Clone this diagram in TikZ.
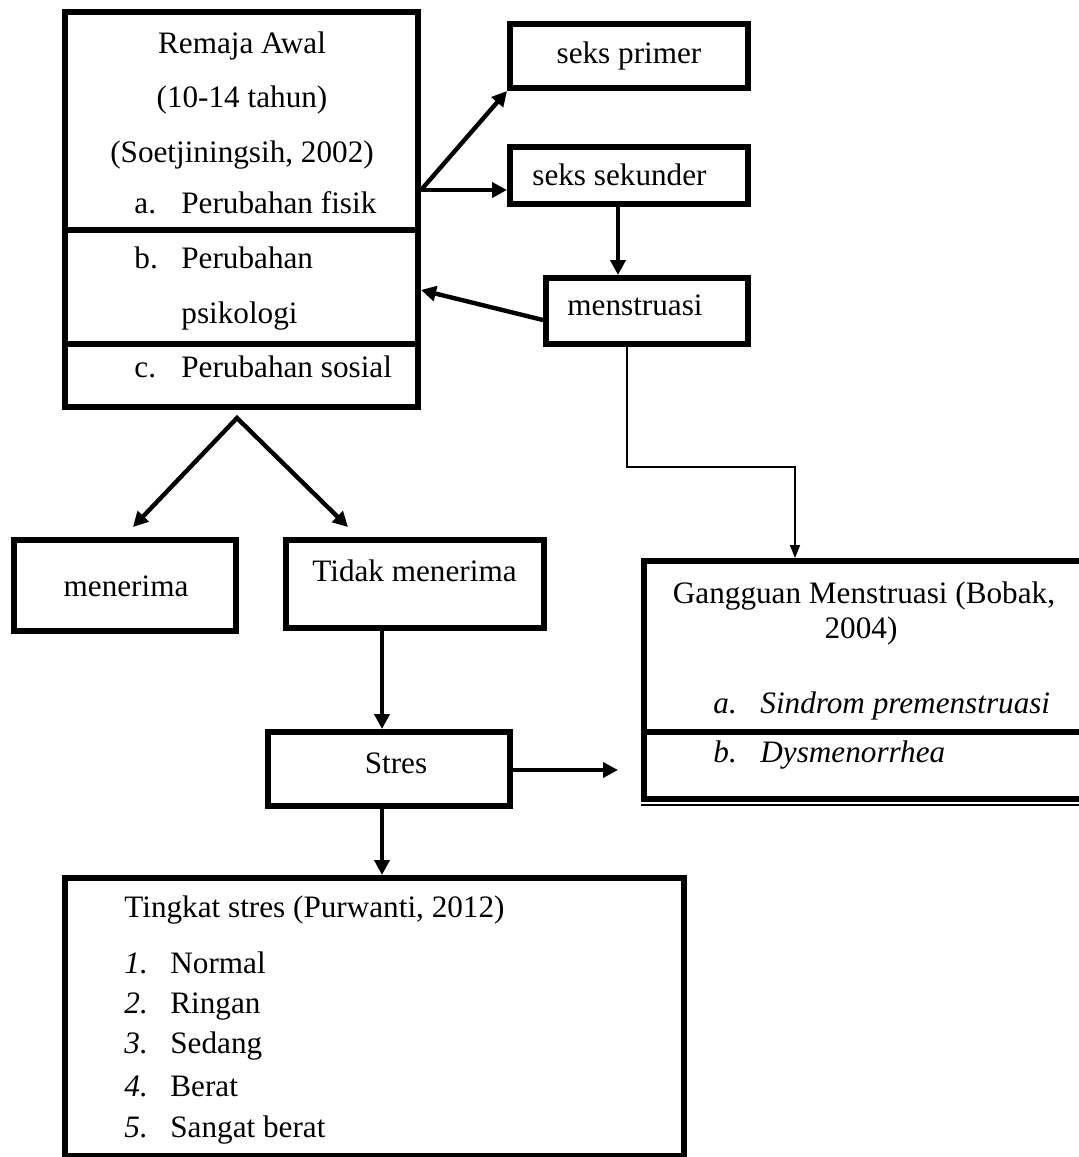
\documentclass[tikz,border=0pt]{standalone}
\usepackage{fontspec}
\setmainfont{Liberation Serif}
\usetikzlibrary{arrows.meta, fit}

\begin{document}
\begin{tikzpicture}[x=0.5pt, y=-0.5pt, line join=miter,
  box/.style={draw, line width=3pt, inner sep=0pt},
  arr/.style={line width=2.2pt, -{Triangle[length=7.5pt, width=7.5pt]}},
  thinarr/.style={line width=0.8pt, -{Triangle[length=6.5pt, width=5pt]}},
  txt/.style={inner sep=0pt, font=\fontsize{15.6}{18}\selectfont},
  it/.style={txt, font=\fontsize{15.6}{18}\selectfont\itshape}]
  \useasboundingbox (0,0) rectangle (1079,1157);

  % boxes
  \node[box, fit={(65,12) (418,407)}] (remaja) {};
  \draw[line width=3pt] (remaja.west |- 0,230) -- (remaja.east |- 0,230);
  \draw[line width=3pt] (remaja.west |- 0,344) -- (remaja.east |- 0,344);
  \node[box, fit={(510,24) (748,88)}] (primer) {};
  \node[box, fit={(510,147) (748,204)}] (sekunder) {};
  \node[box, fit={(546,278) (748,344)}] (mens) {};
  \node[box, fit={(14,540) (236,631)}] (terima) {};
  \node[box, fit={(286,540) (544,628)}] (tolak) {};
  \node[box, fit={(268,732) (510,806)}] (stres) {};
  \node[box, fit={(644,561) (1090,799)}] (gangguan) {};
  \draw[line width=3pt] (gangguan.west |- 0,732) -- (gangguan.east |- 0,732);
  \draw[line width=1pt] (gangguan.south west |- 0,805) -- (gangguan.south east |- 0,805);
  \node[box, fit={(65,878) (684,1156)}] (tingkat) {};

  % texts
  \node[txt, anchor=base] (remaja1) at (242,53) {Remaja Awal};
  \node[txt, anchor=base] (remaja2) at (242,107) {(10-14 tahun)};
  \node[txt, anchor=base] (remaja3) at (242,162) {(Soetjiningsih, 2002)};
  \node[txt, anchor=base west] (ra) at (134,213) {a.};
  \node[txt, anchor=base west] (fisik) at (181,213) {Perubahan fisik};
  \node[txt, anchor=base west] (rb) at (134,268) {b.};
  \node[txt, anchor=base west] (psiko1) at (181,268) {Perubahan};
  \node[txt, anchor=base west] (psiko2) at (181,323) {psikologi};
  \node[txt, anchor=base west] (rc) at (134,377) {c.};
  \node[txt, anchor=base west] (sosial) at (181,377) {Perubahan sosial};

  \node[txt, anchor=base] (primertxt) at (629,63) {seks primer};
  \node[txt, anchor=base west] (sekundertxt) at (532,185) {seks sekunder};
  \node[txt, anchor=base west] (menstxt) at (567,315) {menstruasi};
  \node[txt, anchor=base] (terimatxt) at (126,596) {menerima};
  \node[txt, anchor=base west] (tolaktxt) at (312,581) {Tidak menerima};
  \node[txt, anchor=base] (strestxt) at (396,773) {Stres};

  \node[txt, anchor=base] (gang1) at (864,603) {Gangguan Menstruasi (Bobak,};
  \node[txt, anchor=base] (gang2) at (861,638) {2004)};
  \node[it, anchor=base west] (ga) at (713,713) {a.};
  \node[it, anchor=base west] (pms) at (760,713) {Sindrom premenstruasi};
  \node[it, anchor=base west] (gb) at (713,762) {b.};
  \node[it, anchor=base west] (dysm) at (760,762) {Dysmenorrhea};

  \node[txt, anchor=base west] (tingkattxt) at (124,917) {Tingkat stres (Purwanti, 2012)};
  \foreach \n/\w/\yy in {1/Normal/973, 2/Ringan/1013, 3/Sedang/1053, 4/Berat/1096, 5/Sangat berat/1137} {
    \node[it, anchor=base west] (num\n) at (124,\yy) {\n.};
    \node[txt, anchor=base west] (lvl\n) at (170,\yy) {\w};
  }

  % connectors
  \coordinate (split) at (421,190);
  \draw[arr] (split) -- (primer.south west);
  \draw[arr] (split) -- (split -| sekunder.west);
  \draw[arr] (sekunder.south -| 618,0) -- (mens.north -| 618,0);
  \draw[arr] (mens.west |- 0,320) -- (remaja.east |- 0,290);
  \draw[thinarr] (mens.south -| 627,0) -- (627,467) -| (gangguan.north -| 795,0);

  \coordinate (apex) at (237,418);
  \coordinate (tipL) at (133,527);
  \coordinate (tipR) at (348,527);
  \draw[line width=2.2pt, {Triangle[length=7.5pt, width=7.5pt]}-{Triangle[length=7.5pt, width=7.5pt]}]
    (tipL) -- (apex) -- (tipR);

  \draw[arr] (tolak.south -| 382,0) -- (stres.north -| 382,0);
  \coordinate (stresend) at (618,770);
  \draw[arr] (stres.east |- stresend) -- (stresend);
  \draw[arr] (stres.south -| 382,0) -- (tingkat.north -| 382,0);
\end{tikzpicture}
\end{document}
